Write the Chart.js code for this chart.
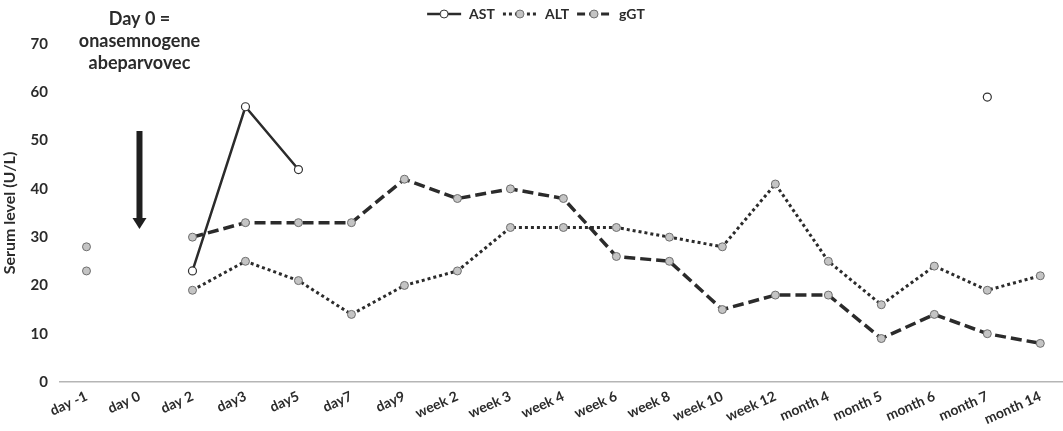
<!DOCTYPE html>
<html>
<head>
<meta charset="utf-8">
<script src="https://cdn.jsdelivr.net/npm/chart.js@4"></script>
<style>
  html, body { margin: 0; padding: 0; background: #fff; overflow: hidden; }
  #wrap { width: 1063px; height: 431px; overflow: hidden; }
</style>
</head>
<body>
<div id="wrap"><canvas id="myChart" width="1072" height="431"></canvas></div>
<script>
const labels = ['day -1', 'day 0', 'day 2', 'day3', 'day5', 'day7', 'day9', 'week 2', 'week 3', 'week 4',
  'week 6', 'week 8', 'week 10', 'week 12', 'month 4', 'month 5', 'month 6', 'month 7', 'month 14'];
const astValues = [null, null, 23, 57, 44, null, null, null, null, null, null, null, null, null, null, null, null, 59, null];
const altValues = [23, null, 19, 25, 21, 14, 20, 23, 32, 32, 32, 30, 28, 41, 25, 16, 24, 19, 22];
const ggtValues = [28, null, 30, 33, 33, 33, 42, 38, 40, 38, 26, 25, 15, 18, 18, 9, 14, 10, 8];
const yTicks = [0, 10, 20, 30, 40, 50, 60, 70];

const FONT = 'Lato, "Liberation Sans", sans-serif';
const ink = '#2b2b2b';
const grayFill = '#c4c4c4';
const grayEdge = '#6e6e6e';

// little line+marker pictures for the legend
function legendIcon(dash, width, fill, edge) {
  const c = document.createElement('canvas');
  c.width = 36; c.height = 12;
  const g = c.getContext('2d');
  g.strokeStyle = ink;
  g.lineWidth = width;
  g.setLineDash(dash);
  g.beginPath(); g.moveTo(1, 6); g.lineTo(35, 6); g.stroke();
  g.setLineDash([]);
  g.fillStyle = fill; g.strokeStyle = edge; g.lineWidth = 1;
  g.beginPath(); g.arc(18, 6, 4, 0, Math.PI * 2); g.fill(); g.stroke();
  return c;
}

// empty band between legend and plot
const spacer = {
  id: 'spacer',
  beforeInit(chart) {
    Chart.layouts.addBox(chart, {
      position: 'top',
      weight: 500,
      fullSize: true,
      options: {},
      isHorizontal() { return true; },
      update(w) { this.width = w; this.height = 13; },
      draw() {}
    });
  }
};

const annotation = {
  id: 'day0note',
  afterDraw(chart) {
    const g = chart.ctx;
    const x = chart.scales.x.getPixelForValue(1);
    g.save();
    g.fillStyle = ink;
    g.font = 'bold 18px ' + FONT;
    g.textAlign = 'center';
    g.textBaseline = 'middle';
    g.fillText('Day 0 =', x, 19);
    g.fillText('onasemnogene', x, 41);
    g.fillText('abeparvovec', x, 63);
    // arrow
    g.fillStyle = '#1f1f1f';
    g.fillRect(x - 3, 131, 6, 88);
    g.beginPath();
    g.moveTo(x - 7, 218); g.lineTo(x + 7, 218); g.lineTo(x, 229); g.closePath();
    g.fill();
    g.restore();
  }
};

new Chart(document.getElementById('myChart'), {
  type: 'line',
  data: {
    labels: labels,
    datasets: [{
      label: 'AST',
      data: astValues,
      borderColor: ink,
      borderWidth: 2.5,
      pointRadius: 4,
      pointBorderWidth: 1.2,
      pointBackgroundColor: '#ffffff',
      pointBorderColor: '#333333',
      legendIcon: legendIcon([], 2.5, '#ffffff', '#333333')
    }, {
      label: 'ALT',
      data: altValues,
      borderColor: ink,
      borderWidth: 3,
      borderDash: [3, 3],
      pointRadius: 4,
      pointBorderWidth: 1,
      pointBackgroundColor: grayFill,
      pointBorderColor: grayEdge,
      legendIcon: legendIcon([3, 3], 3, grayFill, grayEdge)
    }, {
      label: 'gGT',
      data: ggtValues,
      borderColor: ink,
      borderWidth: 3.5,
      borderDash: [11, 5],
      pointRadius: 4,
      pointBorderWidth: 1,
      pointBackgroundColor: grayFill,
      pointBorderColor: grayEdge,
      legendIcon: legendIcon([8, 4], 3, grayFill, grayEdge)
    }]
  },
  options: {
    responsive: false,
    animation: false,
    spanGaps: false,
    layout: { padding: { top: 0, right: 1, left: 0, bottom: 0 } },
    plugins: {
      tooltip: { enabled: false },
      legend: {
        position: 'top',
        labels: {
          usePointStyle: true,
          pointStyleWidth: 36,
          padding: 7,
          color: ink,
          font: { family: FONT, size: 14, weight: 'bold' },
          generateLabels(chart) {
            return chart.data.datasets.map((ds, i) => ({
              text: ds.label,
              pointStyle: ds.legendIcon,
              fontColor: ink,
              datasetIndex: i,
              hidden: false,
              lineWidth: 0
            }));
          }
        }
      }
    },
    scales: {
      x: {
        offset: true,
        grid: { display: false, drawTicks: false },
        border: { color: '#b5b5b5', width: 1.5 },
        ticks: {
          color: ink,
          minRotation: 24,
          maxRotation: 24,
          padding: 6,
          font: { family: FONT, size: 14, weight: 'bold' }
        },
        afterFit(s) { s.height = 49; }
      },
      y: {
        min: 0,
        max: 70,
        grid: { display: false, drawTicks: false },
        border: { display: false },
        afterBuildTicks(s) { s.ticks = yTicks.map(v => ({ value: v })); },
        ticks: {
          color: ink,
          padding: 12,
          font: { family: FONT, size: 15, weight: 'bold' }
        },
        title: {
          display: true,
          text: 'Serum level (U/L)',
          color: ink,
          padding: 0,
          font: { family: FONT, size: 16, weight: 'bold' }
        },
        afterFit(s) { s.width = 60; }
      }
    }
  },
  plugins: [spacer, annotation]
});
</script>
</body>
</html>
